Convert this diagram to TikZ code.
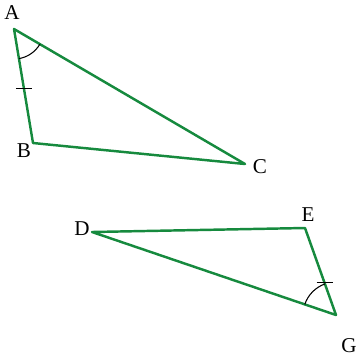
\documentclass[tikz,border=0pt]{standalone}
\usepackage{fontspec}
\setmainfont{Liberation Serif}
\usetikzlibrary{angles,calc}
\definecolor{sidegreen}{RGB}{22,138,62}
\tikzset{
  side/.style={draw=sidegreen,line width=1.4pt,line join=round},
  vlabel/.style={inner sep=0pt,font=\large},
  tick/.style={draw=black,line width=0.6pt},
  mark angle/.style={draw=black,line width=0.6pt}
}
\begin{document}
\begin{tikzpicture}[x=0.02cm,y=-0.02cm]
\useasboundingbox (0,0) rectangle (357,356);
% first triangle
\coordinate (A) at (14,29);
\coordinate (B) at (33,143);
\coordinate (C) at (245,164);
\draw[side] (A) -- (B) -- (C) -- cycle;
\node[vlabel] (lA) at (12,13) {A};
\node[vlabel] (lB) at (24,151) {B};
\node[vlabel] (lC) at (260,167) {C};
\pic[mark angle,angle radius=0.6cm] {angle=B--A--C};
\coordinate (tAB) at ($(A)!0.52!(B)$);
\draw[tick] ($(tAB)+(-8,0)$) -- ($(tAB)+(8,0)$);
% second triangle
\coordinate (D) at (92,232);
\coordinate (E) at (305,228);
\coordinate (G) at (336,315);
\draw[side] (D) -- (E) -- (G) -- cycle;
\node[vlabel] (lD) at (82,229) {D};
\node[vlabel] (lE) at (308,215) {E};
\node[vlabel] (lG) at (349,346) {G};
\pic[mark angle,angle radius=0.66cm] {angle=E--G--D};
\coordinate (tEG) at ($(E)!0.63!(G)$);
\draw[tick] ($(tEG)+(-8,0)$) -- ($(tEG)+(8,0)$);
\end{tikzpicture}
\end{document}
